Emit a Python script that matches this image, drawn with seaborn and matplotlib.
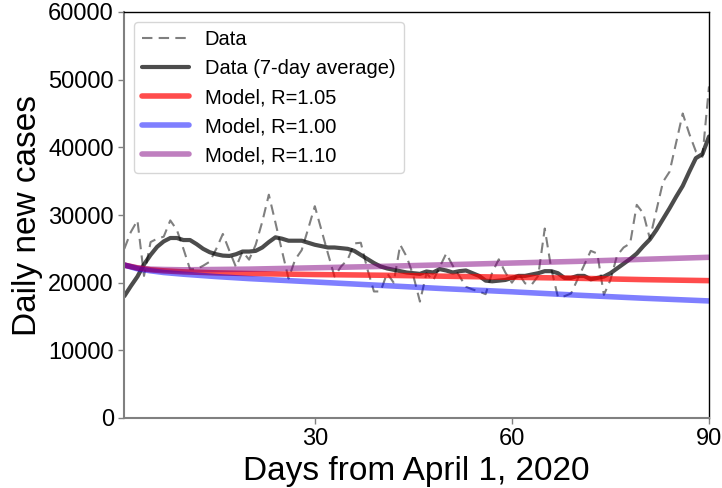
import numpy as np
import pandas as pd
import matplotlib
matplotlib.use("Agg")
import matplotlib.pyplot as plt
import seaborn as sns

days = list(range(1, 91))
daily_cases = [
    25000, 27500, 29200, 21000, 26000, 26500, 26800, 29200, 27800, 25000,
    22000, 22000, 22500, 23100, 25000, 27200, 24700, 22300, 24600, 23400,
    25600, 29000, 33000, 28900, 24700, 20600, 23400, 24800, 28000, 31300,
    27800, 24300, 20900, 22400, 23400, 25800, 25900, 22000, 18700, 18700,
    21400, 20000, 25600, 23800, 21000, 17200, 21400, 20300, 22300, 24300,
    22500, 21000, 19400, 19000, 18700, 18300, 21500, 23450, 21500, 20000,
    21400, 19900, 19700, 21000, 28000, 22000, 17900, 18000, 18400, 20500,
    22600, 24700, 24300, 18200, 20400, 24000, 25200, 25800, 31500, 30250,
    26500, 30700, 34900, 36400, 40700, 45000, 42000, 39400, 38600, 49000,
]
avg7_cases = [
    18000, 19500, 20900, 22700, 24100, 25300, 26100, 26600, 26600, 26300,
    26300, 25700, 25000, 24500, 24200, 24000, 23950, 24200, 24600, 24600,
    24700, 25200, 26000, 26700, 26500, 26200, 26200, 26200, 25900, 25600,
    25400, 25200, 25200, 25100, 25000, 24700, 24100, 23500, 22900, 22400,
    22100, 21900, 21700, 21500, 21400, 21300, 21650, 21500, 22000, 21800,
    21500, 21700, 21800, 21400, 21000, 20300, 20200, 20300, 20400, 20700,
    21000, 21000, 21200, 21400, 21700, 21700, 21400, 20700, 20700, 21000,
    21000, 20500, 20700, 20900, 21400, 22100, 22800, 23500, 24300, 25400,
    26400, 27800, 29400, 31000, 32700, 34300, 36400, 38400, 39000, 41600,
]
model_days = [1, 3, 5, 7, 10, 15, 20, 30, 40, 50, 60, 70, 80, 90]
model_r105 = [22600, 22150, 21900, 21750, 21600, 21450, 21350, 21200, 21100, 20950, 20800, 20650, 20450, 20300]
model_r100 = [22600, 22050, 21750, 21500, 21250, 20900, 20600, 20100, 19600, 19100, 18650, 18150, 17700, 17300]
model_r110 = [22600, 22200, 22000, 21950, 21900, 21950, 22000, 22200, 22400, 22650, 22900, 23150, 23450, 23750]

x_ticks = [30, 60, 90]
y_ticks = [0, 10000, 20000, 30000, 40000, 50000, 60000]

sns.set_style("ticks")
plt.rcParams["font.family"] = ["Liberation Sans", "DejaVu Sans"]
plt.rcParams["text.color"] = "black"
plt.rcParams["axes.labelcolor"] = "black"
plt.rcParams["xtick.labelcolor"] = "black"
plt.rcParams["ytick.labelcolor"] = "black"

fig = plt.figure(figsize=(7.22, 4.88), dpi=100)
ax = fig.add_axes([124.3 / 722, 1 - 418 / 488, (709 - 124.3) / 722, (418 - 12) / 488])

sns.lineplot(x=days, y=daily_cases, ax=ax, color="black", alpha=0.5, lw=1.5,
             linestyle=(0, (5, 3)), label="Data")
sns.lineplot(x=days, y=avg7_cases, ax=ax, color="black", alpha=0.7, lw=3,
             label="Data (7-day average)")
sns.lineplot(x=model_days, y=model_r105, ax=ax, color="red", alpha=0.7, lw=4,
             label="Model, R=1.05")
sns.lineplot(x=model_days, y=model_r100, ax=ax, color="blue", alpha=0.5, lw=4,
             label="Model, R=1.00")
sns.lineplot(x=model_days, y=model_r110, ax=ax, color="purple", alpha=0.5, lw=4,
             label="Model, R=1.10")

ax.set_xlim(1, 90)
ax.set_ylim(0, 60000)
ax.set_xticks(x_ticks)
ax.set_yticks(y_ticks)
ax.tick_params(labelsize=17, color="#808080", length=4, width=1, labelcolor="black")
ax.set_xlabel("Days from April 1, 2020", fontsize=24, color="black")
ax.set_ylabel("Daily new cases", fontsize=24, color="black")

for side in ["left", "bottom"]:
    ax.spines[side].set_color("#808080")
    ax.spines[side].set_linewidth(1.5)
for side in ["top", "right"]:
    ax.spines[side].set_visible(True)
    ax.spines[side].set_color("black")
    ax.spines[side].set_linewidth(1.0)

leg = ax.legend(loc="upper left", fontsize=14.5, handlelength=2.3, frameon=True)
for t in leg.get_texts():
    t.set_color("black")

fig.savefig("out.png", dpi=100)
